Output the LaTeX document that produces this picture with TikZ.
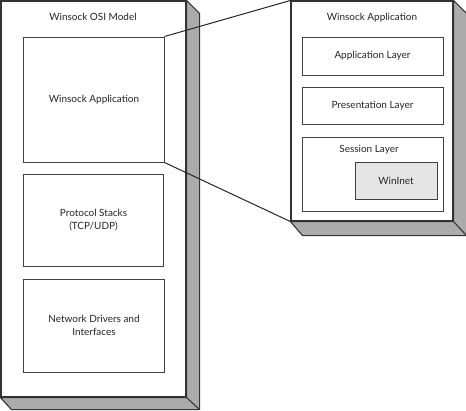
\documentclass[tikz,border=0pt]{standalone}
\usepackage{fontspec}
\setmainfont{Lato}
\usepackage{tikz}

\begin{document}
\begin{tikzpicture}[
x=1bp, y=-1bp, % pixel grid, y grows downwards
line width=1.1bp,
every node/.style={font=\fontsize{10}{12.5}\selectfont, inner sep=0pt, text=black!85},
face/.style={draw=black!80, fill=white},
layer/.style={draw=black!75, fill=white, line width=1bp},
side/.style={draw=black!80, fill=black!33, line join=round}
]
\useasboundingbox (0,0) rectangle (466,410);

% ================= Left block (OSI model) =================
\node[face, minimum width=185bp, minimum height=396bp] (osi) at (93.5,199) {};
\draw[side] (osi.north east) -- ++(13,13) -- ([shift={(13,12)}]osi.south east)
  -- ([shift={(11,12)}]osi.south west) -- (osi.south west) -- (osi.south east) -- cycle;
\draw[black!80] (osi.south east) -- ++(13,12);
\node (osititle) at (93,17) {Winsock OSI Model};

\node[layer, minimum width=140bp, minimum height=125bp] (wsapp) at (94,99.5) {};
\node at (wsapp) {Winsock Application};

\node[layer, minimum width=140bp, minimum height=92bp] (proto) at (93.5,220) {};
\node[align=center] at (proto) {Protocol Stacks\\(TCP/UDP)};

\node[layer, minimum width=140bp, minimum height=93bp] (netdrv) at (94,325.5) {};
\node[align=center] at (netdrv) {Network Drivers and\\Interfaces};

% ================= Right block (application detail) =================
\node[face, minimum width=162bp, minimum height=220bp] (detail) at (372,111) {};
\draw[side] (detail.north east) -- ++(13,13) -- ([shift={(13,14)}]detail.south east)
  -- ([shift={(12,14)}]detail.south west) -- (detail.south west) -- (detail.south east) -- cycle;
\draw[black!80] (detail.south east) -- ++(13,14);
\node (detailtitle) at (372,18) {Winsock Application};

\node[layer, minimum width=141bp, minimum height=38bp] (applayer) at (372.5,56) {};
\node at (applayer) {Application Layer};

\node[layer, minimum width=141bp, minimum height=37bp] (preslayer) at (372.5,105.5) {};
\node at (preslayer) {Presentation Layer};

\node[layer, minimum width=141bp, minimum height=74bp] (sesslayer) at (372.5,174) {};
\node at (369,150) {Session Layer};
\node[layer, fill=black!10, minimum width=82bp, minimum height=37bp] (wininet) at (396,180.5) {};
\node at (wininet) {WinInet};

% ================= Zoom connectors =================
\draw[black!85, line width=1bp] (wsapp.north east) -- (detail.north west);
\draw[black!85, line width=1bp] (wsapp.south east) -- (detail.south west);

\end{tikzpicture}
\end{document}
